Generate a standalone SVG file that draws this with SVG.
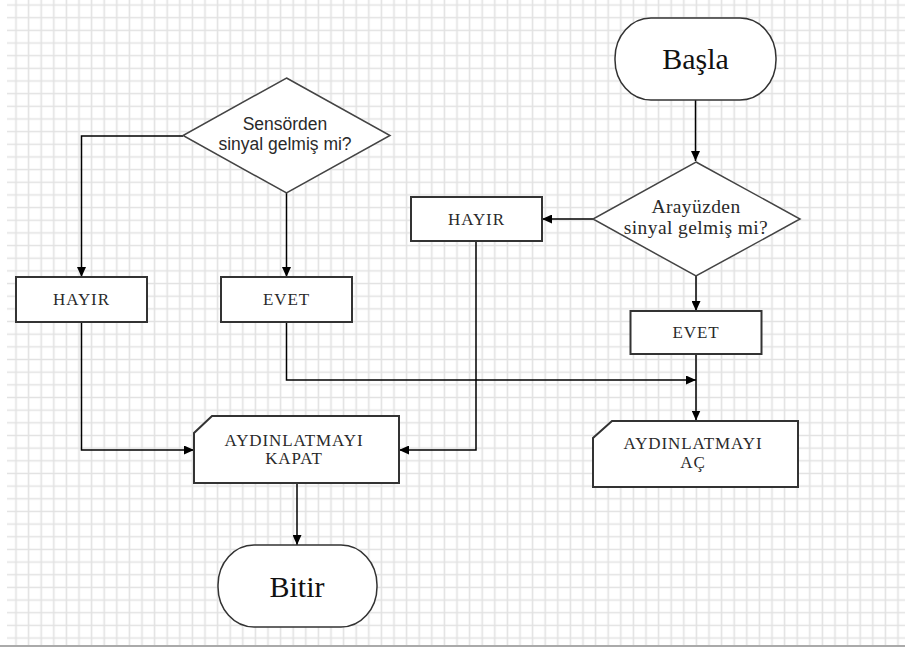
<svg xmlns="http://www.w3.org/2000/svg" width="905" height="650" viewBox="0 0 905 650">
  <defs>
    <pattern id="grid" patternUnits="userSpaceOnUse" x="9.7" y="-1.3" width="12.6" height="12.66">
      <path d="M6.3 0 V12.66 M0 6.3 H12.6" fill="none" stroke="#e2e2e2" stroke-width="1.6"/>
    </pattern>
    <marker id="arr" markerUnits="userSpaceOnUse" markerWidth="11" markerHeight="9" refX="10" refY="4.5" orient="auto">
      <path d="M0,0 L10,4.5 L0,9 z" fill="#000"/>
    </marker>
    <style>
      .box { fill: #fff; stroke: #333; stroke-width: 2; }
      .dia { fill: #fff; stroke: #444; stroke-width: 1.5; }
      .term { fill: #fff; stroke: #333; stroke-width: 1.5; }
      .serif { font-family: "Liberation Serif", "Times New Roman", serif; fill: #2a2a2a; text-anchor: middle; }
      .sans { font-family: "Liberation Sans", Arial, sans-serif; fill: #2a2a2a; text-anchor: middle; }
      .lbl { font-size: 17px; letter-spacing: 0.9px; }
      .big { font-size: 30px; fill: #111; letter-spacing: 0; }
      .dtx { font-size: 19.5px; letter-spacing: 0.4px; }
      .stx { font-size: 17.5px; }
      .conn { fill: none; stroke: #000; stroke-width: 1.5; }
    </style>
  </defs>

  <rect x="0" y="0" width="905" height="650" fill="#fff"/>
  <rect x="7" y="0" width="898" height="645" fill="url(#grid)"/>
  <line x1="0" y1="646" x2="905" y2="646" stroke="#aaa" stroke-width="2"/>

  <g id="connectors">
    <path class="conn" d="M695.5 100 V161" marker-end="url(#arr)"/>
    <path class="conn" d="M593 219 H542" marker-end="url(#arr)"/>
    <path class="conn" d="M696 276 V311" marker-end="url(#arr)"/>
    <path class="conn" d="M696 354 V420.5" marker-end="url(#arr)"/>
    <path class="conn" d="M183 136 H81.5 V277" marker-end="url(#arr)"/>
    <path class="conn" d="M286.5 193 V277" marker-end="url(#arr)"/>
    <path class="conn" d="M81.5 322 V450 H194" marker-end="url(#arr)"/>
    <path class="conn" d="M286.5 322 V380 H696" marker-end="url(#arr)"/>
    <path class="conn" d="M476 241 V450 H399" marker-end="url(#arr)"/>
    <path class="conn" d="M297 483 V545" marker-end="url(#arr)"/>
  </g>

  <g id="basla">
    <rect class="term" x="615" y="18" width="161" height="82" rx="36" ry="40"/>
    <text class="serif big" x="695.5" y="69">Başla</text>
  </g>

  <g id="arayuzden">
    <polygon class="dia" points="696,162 800,219 696,276 593,219"/>
    <text class="serif dtx" x="696" y="213">Arayüzden</text>
    <text class="serif dtx" x="696" y="234">sinyal gelmiş mi?</text>
  </g>

  <g id="sensorden">
    <polygon class="dia" points="286.5,78 390,135.5 286.5,193 183,135.5"/>
    <text class="sans stx" x="285" y="130">Sensörden</text>
    <text class="sans stx" x="285" y="150">sinyal gelmiş mi?</text>
  </g>

  <g id="hayir-sag">
    <rect class="box" x="411" y="197" width="131" height="44"/>
    <text class="serif lbl" x="476.5" y="225">HAYIR</text>
  </g>

  <g id="evet-sag">
    <rect class="box" x="630.5" y="311" width="131" height="43"/>
    <text class="serif lbl" x="696" y="338">EVET</text>
  </g>

  <g id="hayir-sol">
    <rect class="box" x="16" y="277" width="131" height="45"/>
    <text class="serif lbl" x="81.5" y="305">HAYIR</text>
  </g>

  <g id="evet-sol">
    <rect class="box" x="221" y="277" width="131" height="45"/>
    <text class="serif lbl" x="286.5" y="305">EVET</text>
  </g>

  <g id="kapat">
    <path class="box" d="M212 416 H399 V483 H194 V433 Z"/>
    <text class="serif lbl" x="294" y="446">AYDINLATMAYI</text>
    <text class="serif lbl" x="294" y="464">KAPAT</text>
  </g>

  <g id="ac">
    <path class="box" d="M612 421 H798 V487 H593 V438 Z"/>
    <text class="serif lbl" x="693" y="449">AYDINLATMAYI</text>
    <text class="serif lbl" x="693" y="468">AÇ</text>
  </g>

  <g id="bitir">
    <rect class="term" x="218" y="545" width="159" height="82" rx="36" ry="40"/>
    <text class="serif big" x="297" y="597">Bitir</text>
  </g>
</svg>
